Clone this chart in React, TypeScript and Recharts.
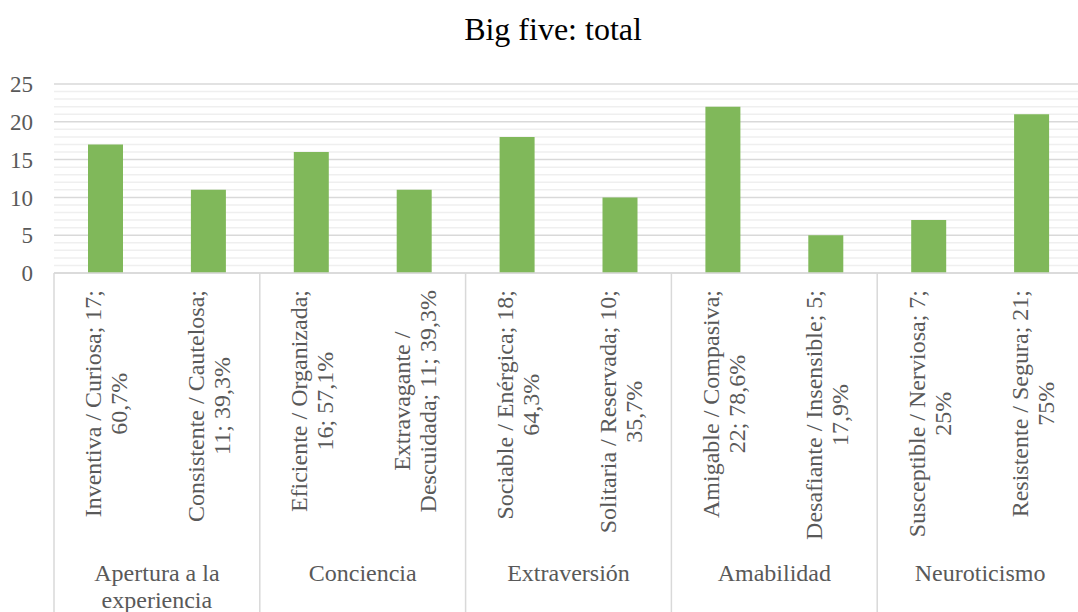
import { Bar, BarChart, CartesianGrid, XAxis, YAxis } from 'recharts';

const GROUPS = ['Apertura a la experiencia', 'Conciencia', 'Extraversión', 'Amabilidad', 'Neuroticismo'];
const GROUP_LINES = [['Apertura a la', 'experiencia'], ['Conciencia'], ['Extraversión'], ['Amabilidad'], ['Neuroticismo']];

const CATEGORIES = [
  'Inventiva / Curiosa',
  'Consistente / Cautelosa',
  'Eficiente / Organizada',
  'Extravagante / Descuidada',
  'Sociable / Enérgica',
  'Solitaria / Reservada',
  'Amigable / Compasiva',
  'Desafiante / Insensible',
  'Susceptible / Nerviosa',
  'Resistente / Segura',
];
const VALUES = [17, 11, 16, 11, 18, 10, 22, 5, 7, 21];
const PERCENTS = ['60,7%', '39,3%', '57,1%', '39,3%', '64,3%', '35,7%', '78,6%', '17,9%', '25%', '75%'];

// wrapped the same way as in the picture
const LABEL_LINES = [
  ['Inventiva / Curiosa; 17;', '60,7%'],
  ['Consistente / Cautelosa;', '11; 39,3%'],
  ['Eficiente / Organizada;', '16; 57,1%'],
  ['Extravagante /', 'Descuidada; 11; 39,3%'],
  ['Sociable / Enérgica; 18;', '64,3%'],
  ['Solitaria / Reservada; 10;', '35,7%'],
  ['Amigable / Compasiva;', '22; 78,6%'],
  ['Desafiante / Insensible; 5;', '17,9%'],
  ['Susceptible / Nerviosa; 7;', '25%'],
  ['Resistente / Segura; 21;', '75%'],
];

const Y_MAX = 25;
const Y_TICKS = [0, 5, 10, 15, 20, 25];
const MINOR_TICKS = [1, 2, 3, 4, 6, 7, 8, 9, 11, 12, 13, 14, 16, 17, 18, 19, 21, 22, 23, 24];

const FONT = "'Liberation Serif', 'Times New Roman', serif";
const TEXT = '#595959';
const GRID = '#d9d9d9';
const LABEL_SIZE = 24;

const W = 1090;
const H = 612;
const X_AXIS_H = 339;
const BAND = (1083 - 54) / CATEGORIES.length;

const data = CATEGORIES.map((name, i) => ({
  name: `${name}; ${VALUES[i]}; ${PERCENTS[i]}`,
  group: GROUPS[Math.floor(i / 2)],
  value: VALUES[i],
}));

let ctx: CanvasRenderingContext2D | null = null;
function measure(text: string) {
  if (!ctx) {
    ctx = document.createElement('canvas').getContext('2d');
  }
  if (!ctx) return text.length * LABEL_SIZE * 0.42;
  ctx.font = `${LABEL_SIZE}px 'Liberation Serif'`;
  return ctx.measureText(text).width;
}

// minor gridlines at every unit, through whatever scale the axis hands over
const minorLines = ({ yAxis, offset }: any) => {
  const scale = yAxis?.scale;
  if (typeof scale === 'function') return MINOR_TICKS.map((v) => scale(v));
  if (scale && typeof scale.map === 'function') return MINOR_TICKS.map((v) => scale.map(v));
  if (offset) return MINOR_TICKS.map((v) => offset.top + offset.height * (1 - v / Y_MAX));
  return [];
};

function CategoryTick(props: any) {
  const { x, y, index } = props;
  const half = props.payload?.offset ?? BAND / 2;
  const lines = LABEL_LINES[index] ?? [];
  const longest = Math.max(...lines.map(measure));
  const midY = y + 17 + longest / 2;
  const step = 26;
  const first = x - ((lines.length - 1) * step) / 2 + 1;
  const groupIdx = Math.floor(index / 2);
  const bottom = y + X_AXIS_H;

  return (
    <g>
      {lines.map((line, k) => {
        const lx = first + k * step;
        return (
          <text
            key={k}
            x={lx}
            y={midY}
            transform={`rotate(-90 ${lx} ${midY})`}
            textAnchor="middle"
            dominantBaseline="central"
            fontFamily={FONT}
            fontSize={LABEL_SIZE}
            fill={TEXT}
          >
            {line}
          </text>
        );
      })}
      {index % 2 === 0 && (
        <>
          <line x1={x - half} y1={y} x2={x - half} y2={bottom} stroke={GRID} strokeWidth={1.5} />
          <text
            x={x + half}
            y={y + 308}
            textAnchor="middle"
            fontFamily={FONT}
            fontSize={LABEL_SIZE}
            fill={TEXT}
          >
            {GROUP_LINES[groupIdx].map((gl, k) => (
              <tspan key={k} x={x + half} dy={k === 0 ? 0 : 27}>
                {gl}
              </tspan>
            ))}
          </text>
        </>
      )}
      {index === CATEGORIES.length - 1 && (
        <line x1={x + half} y1={y} x2={x + half} y2={bottom} stroke={GRID} strokeWidth={1.5} />
      )}
    </g>
  );
}

export default function App() {
  return (
    <div
      style={{
        position: 'absolute',
        left: 0,
        top: 0,
        width: 1078,
        height: 612,
        overflow: 'hidden',
        background: '#fff',
        fontFamily: FONT,
      }}
    >
      <svg width={1078} height={60} style={{ position: 'absolute', left: 0, top: 0 }}>
        <text x={553} y={40} textAnchor="middle" fontFamily={FONT} fontSize={32} fill="#000">
          Big five: total
        </text>
      </svg>
      <BarChart
        width={W}
        height={H}
        data={data}
        margin={{ top: 84, right: 7, left: 0, bottom: 0 }}
        barSize={35}
      >
        <CartesianGrid
          vertical={false}
          stroke="#efefef"
          strokeWidth={1.5}
          horizontalCoordinatesGenerator={minorLines}
        />
        <CartesianGrid vertical={false} stroke={GRID} strokeWidth={1.5} />
        <XAxis
          dataKey="name"
          interval={0}
          height={X_AXIS_H}
          tickLine={false}
          tickSize={0}
          tickMargin={0}
          axisLine={{ stroke: GRID, strokeWidth: 1.5 }}
          tick={<CategoryTick />}
        />
        <YAxis
          domain={[0, Y_MAX]}
          ticks={Y_TICKS}
          width={54}
          axisLine={false}
          tickLine={false}
          tickSize={0}
          tickMargin={21}
          tick={{ fontFamily: FONT, fontSize: 23, fill: TEXT }}
        />
        <Bar dataKey="value" fill="#80b85a" isAnimationActive={false} />
      </BarChart>
    </div>
  );
}
